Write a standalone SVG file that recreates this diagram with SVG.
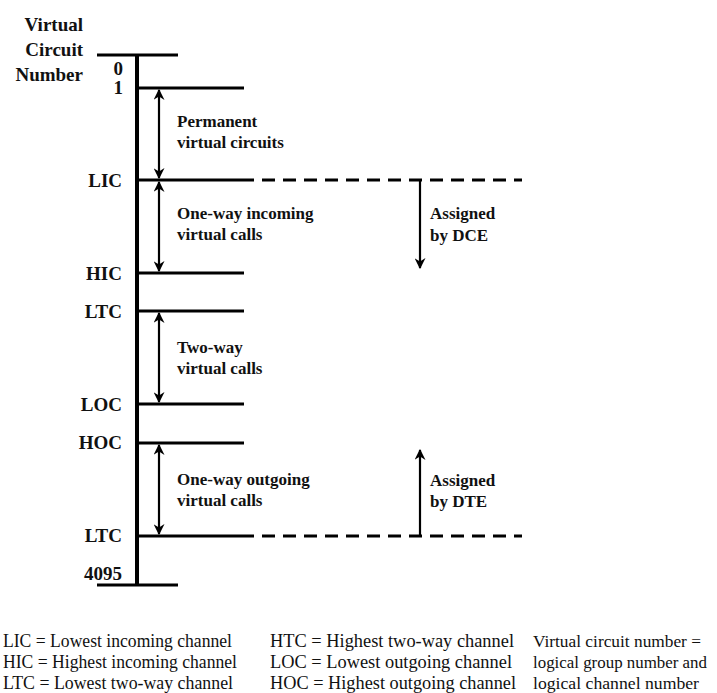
<svg xmlns="http://www.w3.org/2000/svg" width="717" height="693" viewBox="0 0 717 693">
<style>
.b{font-family:"Liberation Serif","Times New Roman",serif;font-weight:bold;fill:#111}
.lab{font-size:19px;text-anchor:end}
.desc{font-size:17px}
.leg{font-family:"Liberation Serif","Times New Roman",serif;font-size:19px;fill:#111}
.leg3{font-size:17.5px}
.ln{stroke:#000;stroke-width:3;fill:none}
.ds{stroke:#000;stroke-width:3;stroke-dasharray:13,8;fill:none}
.ar{stroke:#000;stroke-width:2.2;fill:none}
</style>
<defs>
<marker id="ah" viewBox="0 0 10 10" refX="9" refY="5" markerWidth="5" markerHeight="5" orient="auto-start-reverse">
<path d="M0,0 L10,5 L0,10 L3,5 Z" fill="#000"/>
</marker>
</defs>
<rect width="717" height="693" fill="#fff"/>
<g id="axis">
<line x1="137" y1="54" x2="137" y2="586" stroke="#000" stroke-width="4"/>
<line class="ln" x1="97" y1="55" x2="178" y2="55"/>
<line class="ln" x1="97" y1="585" x2="178" y2="585"/>
<text class="b lab" x="83" y="31">Virtual</text>
<text class="b lab" x="83" y="56">Circuit</text>
<text class="b lab" x="83" y="81">Number</text>
<text class="b lab" x="123" y="75">0</text>
<text class="b lab" x="123" y="94">1</text>
<text class="b lab" x="122" y="580">4095</text>
</g>
<g id="level-1"><line class="ln" x1="139" y1="88" x2="244" y2="88"/></g>
<g id="level-LIC"><line class="ln" x1="139" y1="180" x2="254" y2="180"/><text class="b lab" x="122" y="187">LIC</text></g>
<g id="level-HIC"><line class="ln" x1="139" y1="273" x2="244" y2="273"/><text class="b lab" x="122" y="280">HIC</text></g>
<g id="level-LTC"><line class="ln" x1="139" y1="311" x2="244" y2="311"/><text class="b lab" x="122" y="318">LTC</text></g>
<g id="level-LOC"><line class="ln" x1="139" y1="404" x2="244" y2="404"/><text class="b lab" x="122" y="411">LOC</text></g>
<g id="level-HOC"><line class="ln" x1="139" y1="443" x2="244" y2="443"/><text class="b lab" x="122" y="449">HOC</text></g>
<g id="level-LTC2"><line class="ln" x1="139" y1="536" x2="254" y2="536"/><text class="b lab" x="122" y="542">LTC</text></g>
<g id="pvc"><text class="b desc" x="177" y="127">Permanent</text><text class="b desc" x="177" y="148">virtual circuits</text></g>
<g id="incoming"><text class="b desc" x="177" y="219">One-way incoming</text><text class="b desc" x="177" y="240">virtual calls</text></g>
<g id="twoway"><text class="b desc" x="177" y="353">Two-way</text><text class="b desc" x="177" y="374">virtual calls</text></g>
<g id="outgoing"><text class="b desc" x="177" y="485">One-way outgoing</text><text class="b desc" x="177" y="506">virtual calls</text></g>
<g id="dce"><text class="b desc" x="430" y="219">Assigned</text><text class="b desc" x="430" y="241">by DCE</text></g>
<g id="dte"><text class="b desc" x="430" y="486">Assigned</text><text class="b desc" x="430" y="507">by DTE</text></g>
<g id="connectors">
<line class="ds" x1="262" y1="180" x2="522" y2="180"/>
<line class="ds" x1="262" y1="536" x2="522" y2="536"/>
<line class="ar" x1="159" y1="90" x2="159" y2="178" marker-start="url(#ah)" marker-end="url(#ah)"/>
<line class="ar" x1="159" y1="182" x2="159" y2="271" marker-start="url(#ah)" marker-end="url(#ah)"/>
<line class="ar" x1="159" y1="313" x2="159" y2="402" marker-start="url(#ah)" marker-end="url(#ah)"/>
<line class="ar" x1="159" y1="445" x2="159" y2="534" marker-start="url(#ah)" marker-end="url(#ah)"/>
<line class="ar" x1="420" y1="181" x2="420" y2="268" marker-end="url(#ah)"/>
<line class="ar" x1="420" y1="535" x2="420" y2="450" marker-end="url(#ah)"/>
</g>
<g id="legend">
<text class="leg" x="3" y="647" textLength="229" lengthAdjust="spacingAndGlyphs">LIC = Lowest incoming channel</text>
<text class="leg" x="3" y="668" textLength="234" lengthAdjust="spacingAndGlyphs">HIC = Highest incoming channel</text>
<text class="leg" x="3" y="689" textLength="230" lengthAdjust="spacingAndGlyphs">LTC = Lowest two-way channel</text>
<text class="leg" x="270" y="647" textLength="244" lengthAdjust="spacingAndGlyphs">HTC = Highest two-way channel</text>
<text class="leg" x="270" y="668" textLength="242" lengthAdjust="spacingAndGlyphs">LOC = Lowest outgoing channel</text>
<text class="leg" x="270" y="689" textLength="246" lengthAdjust="spacingAndGlyphs">HOC = Highest outgoing channel</text>
<text class="leg leg3" x="533" y="647" textLength="168" lengthAdjust="spacingAndGlyphs">Virtual circuit number =</text>
<text class="leg leg3" x="533" y="668" textLength="174" lengthAdjust="spacingAndGlyphs">logical group number and</text>
<text class="leg leg3" x="533" y="689" textLength="166" lengthAdjust="spacingAndGlyphs">logical channel number</text>
</g>
</svg>
